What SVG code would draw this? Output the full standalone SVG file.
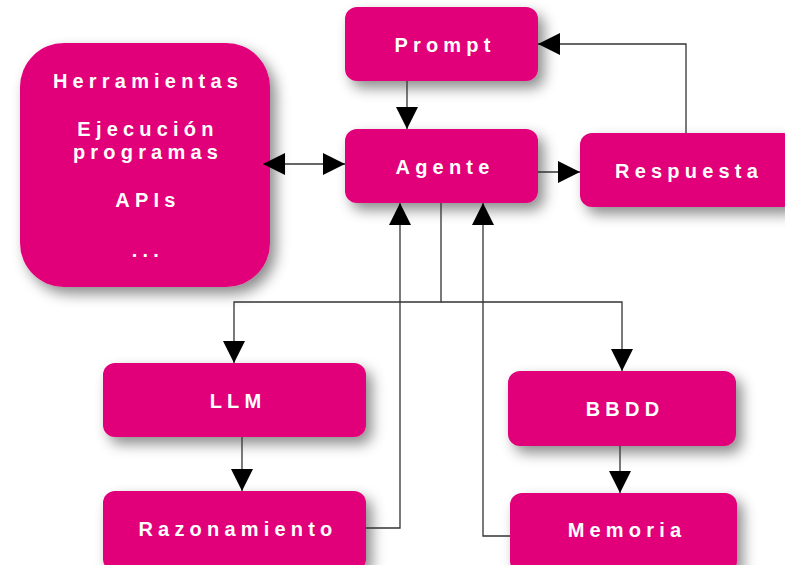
<svg xmlns="http://www.w3.org/2000/svg" width="785" height="565" viewBox="0 0 785 565">
  <style>
    .box { fill: #e2007a; filter: url(#sh); }
    .lbl { font-family: "Liberation Sans", Arial, sans-serif; font-weight: bold; font-size: 20px; letter-spacing: 5.2px; fill: #ffffff; text-anchor: middle; }
    .con { fill: none; stroke: #333333; stroke-width: 1.3; }
  </style>
  <defs>
    <filter id="sh" x="-20%" y="-20%" width="150%" height="160%">
      <feDropShadow dx="6" dy="7" stdDeviation="7" flood-color="#000000" flood-opacity="0.45"/>
    </filter>
    <marker id="ah" viewBox="0 0 22 22" refX="22" refY="11" markerWidth="22" markerHeight="22" markerUnits="userSpaceOnUse" orient="auto-start-reverse">
      <path d="M0,0 L22,11 L0,22 z" fill="#000000"/>
    </marker>
  </defs>

  <g id="herramientas">
    <rect class="box" x="20" y="43" width="250" height="244" rx="44" ry="44"/>
    <text class="lbl" x="148" y="88">Herramientas</text>
    <text class="lbl" x="148" y="136">Ejecución</text>
    <text class="lbl" x="148" y="159">programas</text>
    <text class="lbl" x="148" y="207">APIs</text>
    <text class="lbl" x="148" y="257">...</text>
  </g>

  <g id="prompt">
    <rect class="box" x="345" y="7" width="193" height="74" rx="12" ry="12"/>
    <text class="lbl" x="445" y="52">Prompt</text>
  </g>

  <g id="agente">
    <rect class="box" x="345" y="129" width="193" height="74" rx="12" ry="12"/>
    <text class="lbl" x="445" y="174">Agente</text>
  </g>

  <g id="respuesta">
    <rect class="box" x="580" y="133" width="215" height="74" rx="12" ry="12"/>
    <text class="lbl" x="689" y="178">Respuesta</text>
  </g>

  <g id="llm">
    <rect class="box" x="103" y="363" width="263" height="74" rx="12" ry="12"/>
    <text class="lbl" x="238" y="408">LLM</text>
  </g>

  <g id="razonamiento">
    <rect class="box" x="103" y="491" width="263" height="80" rx="12" ry="12"/>
    <text class="lbl" x="238" y="536">Razonamiento</text>
  </g>

  <g id="bbdd">
    <rect class="box" x="508" y="371" width="228" height="75" rx="12" ry="12"/>
    <text class="lbl" x="625" y="416">BBDD</text>
  </g>

  <g id="memoria">
    <rect class="box" x="510" y="493" width="227" height="80" rx="12" ry="12"/>
    <text class="lbl" x="627" y="537">Memoria</text>
  </g>

  <g id="connectors">
    <path class="con" d="M407,81 V129" marker-end="url(#ah)"/>
    <path class="con" d="M538,172 H580" marker-end="url(#ah)"/>
    <path class="con" d="M686,133 V44 H538" marker-end="url(#ah)"/>
    <path class="con" d="M263,164 H345" marker-start="url(#ah)" marker-end="url(#ah)"/>
    <path class="con" d="M441,203 V302 H234 V363" marker-end="url(#ah)"/>
    <path class="con" d="M441,302 H622 V371" marker-end="url(#ah)"/>
    <path class="con" d="M242,437 V491" marker-end="url(#ah)"/>
    <path class="con" d="M366,528 H400 V203" marker-end="url(#ah)"/>
    <path class="con" d="M620,446 V493" marker-end="url(#ah)"/>
    <path class="con" d="M510,536 H483 V203" marker-end="url(#ah)"/>
  </g>
</svg>
